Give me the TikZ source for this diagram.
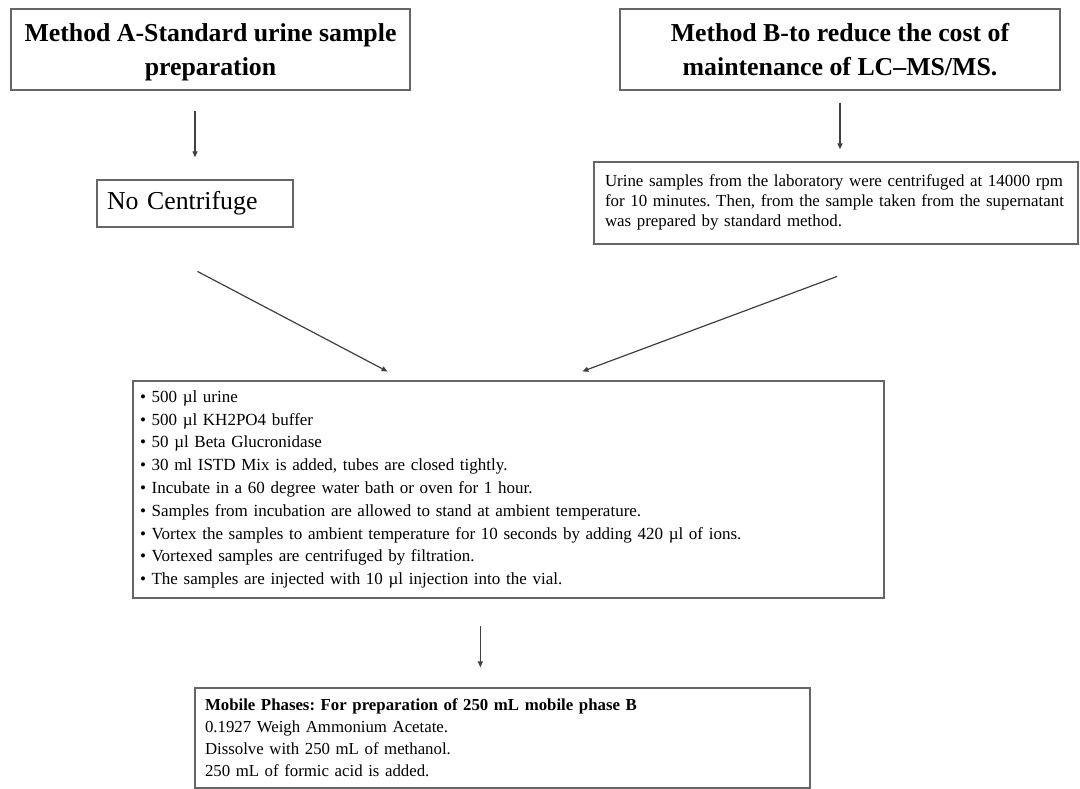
\documentclass[tikz,border=0pt]{standalone}
\usepackage{fontspec}
\setmainfont{Liberation Serif}
\usetikzlibrary{arrows.meta}
\frenchspacing
\begin{document}
\begin{tikzpicture}[x=1pt,y=-1pt,
  box/.style={draw=black!60, line width=1.3pt, inner ysep=0pt},
  arr/.style={draw=black!75, line width=1.2pt, -{Triangle[length=6pt,width=5pt]}},
  titlebox/.style={box, font=\fontsize{25.8}{34}\selectfont\bfseries, align=center, inner xsep=0pt, text depth=0pt},
  textbox/.style={box, align=left}]
\useasboundingbox[fill=white] (0,0) rectangle (1080,789);

\node[titlebox, minimum width=399pt, minimum height=81pt] (A) at (210.5,49.5)
  {Method A-Standard urine sample\\preparation};
\node[titlebox, minimum width=440pt, minimum height=81pt] (B) at (840,49.5)
  {Method B-to reduce the cost of\\maintenance of LC–MS/MS.};

\node[textbox, minimum width=196pt, minimum height=47pt, inner xsep=10pt, text width=176pt,
  font=\fontsize{25.8}{30}\selectfont] (noc) at (195,203.5) {No Centrifuge};

\node[textbox, minimum width=484pt, minimum height=82pt, inner xsep=11pt, text width=462pt,
  font=\fontsize{16.9}{20}\selectfont] (rb) at (836,203)
  {\begin{tabular}{@{}l@{}}
   Urine samples from the laboratory were centrifuged at 14000 rpm\\
   for 10 minutes. Then, from the sample taken from the supernatant\\
   was prepared by standard method.
   \end{tabular}};

\node[textbox, minimum width=751pt, minimum height=217pt, inner xsep=7pt, text width=737pt,
  font=\fontsize{17}{22.8}\selectfont] (mid) at (508.5,489.5)
  {• 500 µl urine\\
   • 500 µl KH2PO4 buffer\\
   • 50 µl Beta Glucronidase\\
   • 30 ml ISTD Mix is added, tubes are closed tightly.\\
   • Incubate in a 60 degree water bath or oven for 1 hour.\\
   • Samples from incubation are allowed to stand at ambient temperature.\\
   • Vortex the samples to ambient temperature for 10 seconds by adding 420 µl of ions.\\
   • Vortexed samples are centrifuged by filtration.\\
   • The samples are injected with 10 µl injection into the vial.};

\node[textbox, minimum width=615pt, minimum height=100pt, inner xsep=10pt, text width=595pt,
  font=\fontsize{16.8}{22}\selectfont] (bot) at (502.5,738)
  {\textbf{Mobile Phases: For preparation of 250 mL mobile phase B}\\
   0.1927 Weigh Ammonium Acetate.\\
   Dissolve with 250 mL of methanol.\\
   250 mL of formic acid is added.};

\draw[arr, shorten <=20pt, shorten >=22pt] (noc.north |- A.south) -- (noc.north);
\draw[arr, shorten <=12pt, shorten >=12pt] (B.south) -- (B.south |- rb.north);
\draw[arr, shorten <=94pt, shorten >=19pt] ([xshift=18pt]noc.south west) -- ([xshift=272pt]mid.north west);
\draw[arr, shorten <=91pt, shorten >=25.6pt] ([xshift=329pt]rb.south west) -- ([xshift=426pt]mid.north west);
\draw[arr, shorten <=27pt, shorten >=20pt] ([xshift=348pt]mid.south west) -- ([xshift=286pt]bot.north west);
\end{tikzpicture}
\end{document}
